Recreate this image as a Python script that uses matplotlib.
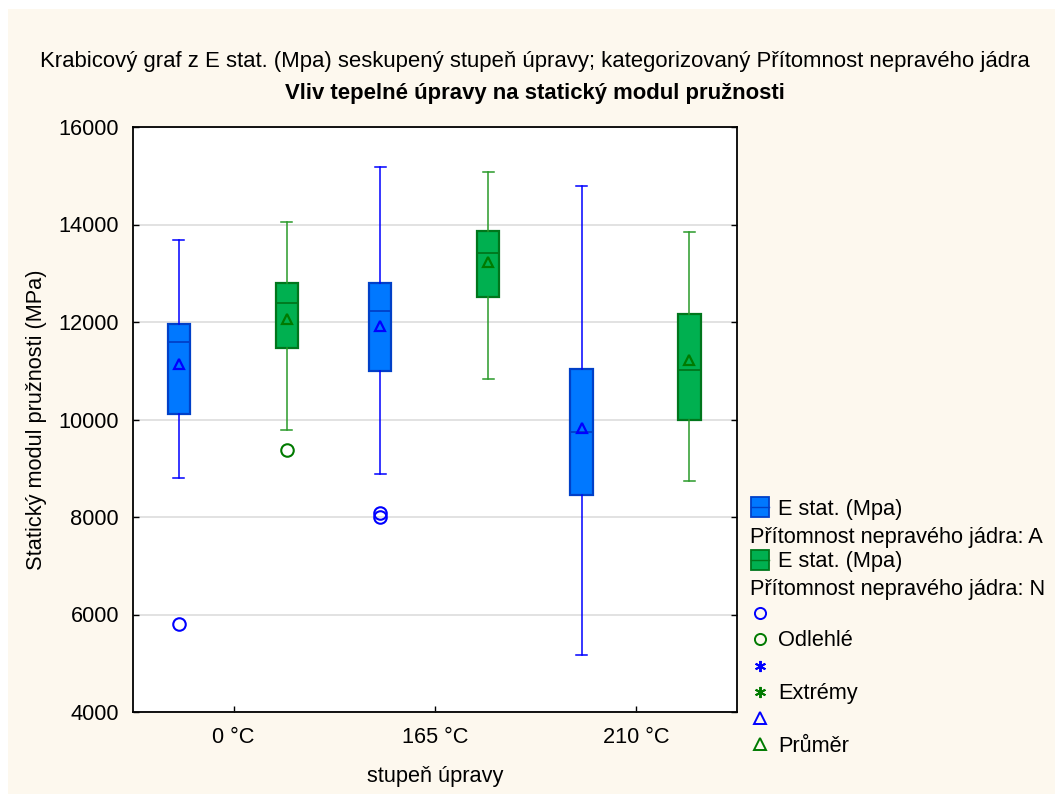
import matplotlib
matplotlib.use("Agg")
from matplotlib import pyplot as plt
from matplotlib.patches import Rectangle
from matplotlib.lines import Line2D

plt.rcParams['font.family'] = ['Liberation Sans', 'DejaVu Sans']

# data
categories = ['0 °C', '165 °C', '210 °C']

# group A (blue)
a_whishi = [13680, 15180, 14790]
a_q3 = [11960, 12810, 11040]
a_med = [11580, 12230, 9740]
a_mean = [11140, 11920, 9820]
a_q1 = [10120, 11000, 8450]
a_whislo = [8790, 8880, 5160]
a_fliers = [[5810], [8090, 8000], []]

# group N (green)
n_whishi = [14050, 15080, 13850]
n_q3 = [12790, 13870, 12160]
n_med = [12390, 13420, 11010]
n_mean = [12070, 13240, 11220]
n_q1 = [11470, 12520, 10000]
n_whislo = [9790, 10840, 8730]
n_fliers = [[9370], [], []]

yticks = [4000, 6000, 8000, 10000, 12000, 14000, 16000]


def stats(whislo, q1, med, q3, whishi, mean, fliers):
    out = []
    for i in range(len(med)):
        out.append(dict(whislo=whislo[i], q1=q1[i], med=med[i], q3=q3[i],
                        whishi=whishi[i], mean=mean[i], fliers=fliers[i]))
    return out


cream = '#FDF8EE'
FS = 15.7
fig = plt.figure(figsize=(10.55, 7.94), dpi=100, facecolor='white')
fig.patches.append(Rectangle((8 / 1055, 0), 1, 1 - 9 / 794, transform=fig.transFigure,
                             facecolor=cream, edgecolor='none', zorder=-5))

ax = fig.add_axes([133 / 1055, 1 - 712 / 794, 604 / 1055, 585 / 794])
ax.set_facecolor('white')

pos = [1, 2, 3]
w = 0.11

groups = [
    (stats(a_whislo, a_q1, a_med, a_q3, a_whishi, a_mean, a_fliers), -0.272,
     '#0078FF', '#0040C8', '#0000FF', '#0000FF'),
    (stats(n_whislo, n_q1, n_med, n_q3, n_whishi, n_mean, n_fliers), 0.264,
     '#00B050', '#00761C', '#2A9A2A', '#007A00'),
]
for st, off, fill, edge, wcol, mcol in groups:
    ax.bxp(st, positions=[p + off for p in pos], widths=w, patch_artist=True,
           showmeans=True, manage_ticks=False,
           boxprops=dict(facecolor=fill, edgecolor=edge, linewidth=1.6),
           medianprops=dict(color=edge, linewidth=1.3),
           whiskerprops=dict(color=wcol, linewidth=1.1),
           capprops=dict(color=wcol, linewidth=1.1),
           capwidths=w / 2,
           meanprops=dict(marker='^', markerfacecolor='none', markeredgecolor=mcol,
                          markeredgewidth=1.6, markersize=7),
           flierprops=dict(marker='o', markerfacecolor='none', markeredgecolor=mcol,
                           markeredgewidth=1.5, markersize=9))

ax.set_xlim(0.5, 3.5)
ax.set_ylim(4000, 16000)
ax.set_xticks(pos)
ax.set_xticklabels(categories)
ax.set_yticks(yticks)
ax.yaxis.grid(True, color='#DDDDDD', linewidth=1.2)
ax.set_axisbelow(True)
ax.tick_params(direction='in', length=4, width=1, labelsize=FS,
               right=True, top=False)
ax.tick_params(axis='y', pad=10)
ax.tick_params(axis='x', pad=11)
for s in ax.spines.values():
    s.set_linewidth(1.3)
    s.set_color('black')

ax.set_ylabel('Statický modul pružnosti (MPa)', fontsize=FS, labelpad=8)
ax.set_xlabel('stupeň úpravy', fontsize=FS, labelpad=13)

fig.text(535 / 1055, 1 - 62 / 794,
         'Krabicový graf z E stat. (Mpa) seskupený stupeň úpravy; kategorizovaný Přítomnost nepravého jádra',
         ha='center', va='center', fontsize=15.9)
fig.text(535 / 1055, 1 - 93 / 794, 'Vliv tepelné úpravy na statický modul pružnosti',
         ha='center', va='center', fontsize=15.9, fontweight='bold')


# legend drawn by hand
def fx(px):
    return px / 1055


def fy(py):
    return 1 - py / 794


for yy, fill, edge in [(507, '#0078FF', '#0040C8'), (560, '#00B050', '#00761C')]:
    fig.patches.append(Rectangle((fx(751), fy(yy + 10)), 18 / 1055, 20 / 794,
                                 transform=fig.transFigure, facecolor=fill,
                                 edgecolor=edge, linewidth=1.3))
    fig.add_artist(Line2D([fx(751), fx(769)], [fy(yy), fy(yy)], transform=fig.transFigure,
                          color=edge, linewidth=1))
    fig.text(fx(778), fy(yy + 2), 'E stat. (Mpa)', ha='left', va='center', fontsize=FS)

fig.text(fx(750), fy(537), 'Přítomnost nepravého jádra: A', ha='left', va='center', fontsize=FS)
fig.text(fx(750), fy(589), 'Přítomnost nepravého jádra: N', ha='left', va='center', fontsize=FS)

leg_markers = [
    (613, 'o', '#0000FF', ''),
    (639, 'o', '#007A00', 'Odlehlé'),
    (666, (6, 2, 0), '#0000FF', ''),
    (692, (6, 2, 0), '#007A00', 'Extrémy'),
    (718, '^', '#0000FF', ''),
    (744, '^', '#007A00', 'Průměr'),
]
for yy, m, c, lab in leg_markers:
    fig.add_artist(Line2D([fx(760)], [fy(yy)], transform=fig.transFigure, marker=m,
                          markersize=8, markerfacecolor='none', markeredgecolor=c,
                          markeredgewidth=1.4, linestyle='none'))
    if lab:
        fig.text(fx(778), fy(yy + 2), lab, ha='left', va='center', fontsize=FS)

plt.savefig('out.png', dpi=100, facecolor=fig.get_facecolor())
